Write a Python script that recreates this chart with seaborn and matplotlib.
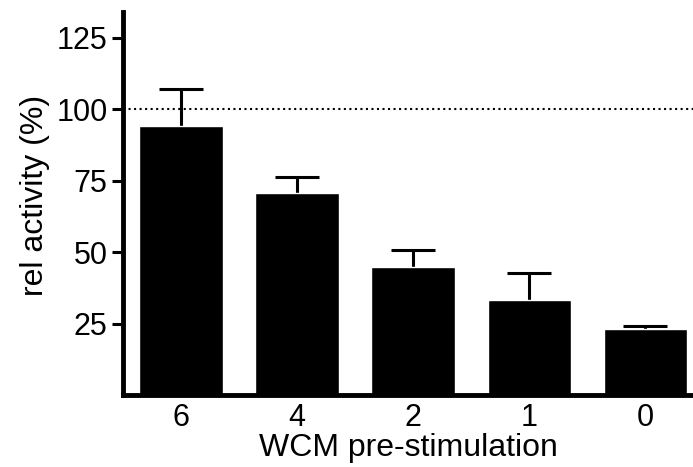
import numpy as np
import seaborn as sns
import matplotlib
matplotlib.use("Agg")
import matplotlib.pyplot as plt

# WCM pre-stimulation groups and relative activity (mean, upper error)
groups = ["6", "4", "2", "1", "0"]
activity = [94.3, 70.8, 44.9, 33.3, 23.1]
err_up = [12.7, 5.6, 5.9, 9.5, 1.1]
ytick_vals = [25, 50, 75, 100, 125]

sns.set_style("ticks")
plt.rcParams["font.family"] = ["Liberation Sans", "DejaVu Sans"]
plt.rcParams["text.color"] = "black"
plt.rcParams["axes.labelcolor"] = "black"
plt.rcParams["xtick.color"] = "black"
plt.rcParams["ytick.color"] = "black"
plt.rcParams["axes.edgecolor"] = "black"

fig = plt.figure(figsize=(6.93, 4.67), dpi=100)
ax = fig.add_axes([0.1775, 0.154, 0.8225, 0.82])

sns.barplot(x=groups, y=activity, order=groups, color="black",
            width=0.72, saturation=1, ax=ax, errorbar=None)

# only upper error bars
eb = ax.errorbar(np.arange(len(groups)), activity,
                 yerr=[np.zeros(len(groups)), err_up],
                 fmt="none", ecolor="black", elinewidth=2.2,
                 capsize=15.5, capthick=2.2, zorder=0.5)
# hide the caps sitting on the bar tops
for cap in eb[1]:
    if np.allclose(cap.get_ydata(), activity):
        cap.set_visible(False)

# reference line at 100 %
ax.axhline(100, color="black", linestyle=":", linewidth=1.5, zorder=0)

ax.set_ylim(0, 134)
ax.set_xlim(-0.5, 4.41)
ax.set_yticks(ytick_vals)
ax.set_yticklabels([str(v) for v in ytick_vals])

ax.set_xlabel("WCM pre-stimulation", fontsize=23, labelpad=0)
ax.set_ylabel("rel activity (%)", fontsize=23)
ax.yaxis.set_label_coords(-0.128, 0.522)

ax.tick_params(axis="y", labelsize=22, length=8, width=2.2, pad=3)
ax.tick_params(axis="x", labelsize=22, length=0, pad=6)

sns.despine(ax=ax)
for side in ["left", "bottom"]:
    ax.spines[side].set_linewidth(3.5)

fig.savefig("out.png", dpi=100)
